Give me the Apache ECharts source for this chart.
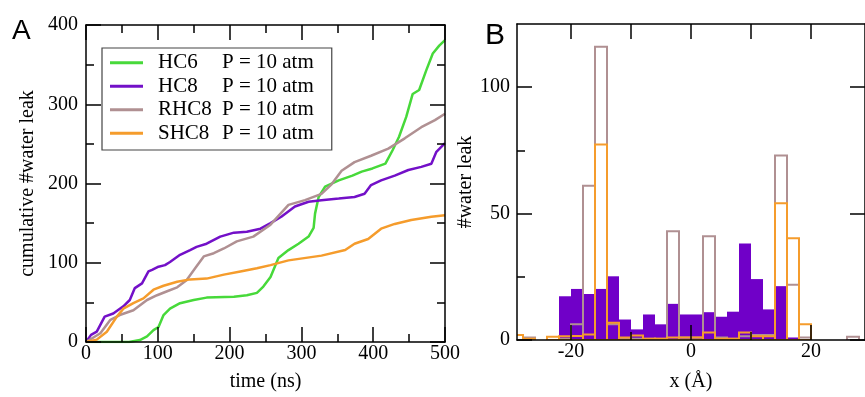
<!DOCTYPE html>
<html>
<head>
<meta charset="utf-8">
<script src="https://cdn.jsdelivr.net/npm/echarts@6/dist/echarts.min.js"></script>
<style>
html,body{margin:0;padding:0;background:#fff;}
#chart{width:865px;height:397px;}
</style>
</head>
<body>
<div id="chart"></div>
<script>
// ---------- Panel A: cumulative water leak vs time ----------
const hc6T = [0, 60, 75, 85, 94, 101, 108, 117, 131, 150, 168, 206, 224, 238, 247, 257, 268, 282, 296, 310, 317, 319, 324, 333, 352, 371, 384, 399, 417, 427, 436, 446, 455, 464, 474, 483, 492, 500];
const hc6V = [0, 0, 2.5, 7, 15, 19, 34, 42, 49, 53, 56, 57, 59, 62, 70, 82, 106, 116, 124, 133, 144, 162, 183, 196, 204, 210, 215, 219, 225, 242, 259, 284, 313, 318, 343, 364, 374, 381];

const hc8T = [0, 7, 15, 26, 38, 52, 61, 68, 78, 87, 92, 101, 110, 117, 131, 145, 154, 168, 187, 206, 224, 243, 257, 272, 291, 310, 328, 352, 374, 388, 397, 411, 430, 449, 467, 481, 488, 500];
const hc8V = [0, 9, 13, 32, 36, 45, 53, 68, 74, 89, 91, 95, 97, 101, 110, 116, 120, 124, 133, 138, 139, 143, 150, 158, 171, 177, 179, 181, 183, 187, 198, 204, 210, 217, 221, 225, 240, 251];

const rhc8T = [0, 20, 34, 47, 66, 85, 99, 113, 127, 140, 152, 164, 178, 192, 210, 233, 257, 282, 305, 328, 342, 356, 374, 397, 421, 444, 467, 486, 500];
const rhc8V = [0, 11, 28, 34, 40, 53, 59, 64, 69, 78, 93, 108, 112, 118, 127, 133, 148, 173, 179, 187, 199, 216, 227, 235, 244, 257, 271, 280, 288];

const shc8T = [0, 15, 29, 43, 52, 66, 80, 94, 108, 127, 145, 168, 192, 215, 238, 257, 282, 328, 361, 374, 393, 411, 430, 453, 481, 500];
const shc8V = [0, 3, 13, 32, 42, 49, 55, 66, 71, 76, 79, 80, 85, 89, 93, 97, 103, 109, 116, 124, 130, 143, 149, 154, 158, 160];

const seriesNames = ['HC6', 'HC8', 'RHC8', 'SHC8'];
const legendSuffix = 'P = 10 atm';

// ---------- Panel B: histogram of leak positions (2 Å bins, left edges) ----------
const binLeft = [-30, -28, -26, -24, -22, -20, -18, -16, -14, -12, -10, -8, -6, -4, -2, 0, 2, 4, 6, 8, 10, 12, 14, 16, 18, 20, 22, 24, 26];
const binWidth = 2;
const histHC8  = [0, 0, 0, 0, 17.3, 20.2, 18.2, 20.2, 25.2, 8.1, 4.2, 10.1, 6.2, 14.3, 10.1, 10.1, 11.0, 9.2, 11.2, 38.2, 24.1, 12.1, 21.3, 1, 0, 0, 0, 0, 0];
const histRHC8 = [0, 1, 0, 0, 0.5, 6.2, 61, 116, 6.2, 0.7, 0.5, 0.5, 0.5, 43, 1, 1, 41, 1, 0.5, 1.5, 2, 2, 73, 21.9, 1, 0, 0, 0, 1.3];
const histSHC8 = [2, 0.5, 0, 1.3, 1.5, 1.6, 2.2, 77.3, 6.8, 1, 1.8, 0.5, 0.5, 1, 1, 1, 3.0, 0.5, 0.5, 3.0, 1.5, 1.5, 54.1, 40.2, 6.2, 0, 0, 0, 0];

const colors = { HC6: '#47d93a', HC8: '#7310c8', RHC8: '#b09092', SHC8: '#f59c2c' };
const fillHC8 = '#7000c8';

const SERIF = '"Liberation Serif", "Times New Roman", serif';
const SANS = '"Liberation Sans", Arial, sans-serif';

function pairs(t, v) { return t.map((x, i) => [x, v[i]]); }
function bins(vals) { return binLeft.map((l, i) => [l, l + binWidth, vals[i]]); }

const chart = echarts.init(document.getElementById('chart'), null, { renderer: 'canvas' });

const axisLine = { show: true, onZero: false, lineStyle: { color: '#000', width: 1.5 } };
const noLine = { show: false, onZero: false };
const labelStyle = { color: '#000', fontFamily: SERIF, fontSize: 20 };
const nameStyle = { color: '#000', fontFamily: SERIF, fontSize: 20 };
const tickLine = { color: '#000', width: 1.5 };

function rectRender(fill, stroke) {
  return function (params, api) {
    const v = api.value(2);
    if (!(v > 0)) return null;
    const p0 = api.coord([api.value(0), v]);
    const p1 = api.coord([api.value(1), 0]);
    return {
      type: 'rect',
      shape: { x: p0[0], y: p0[1], width: p1[0] - p0[0], height: p1[1] - p0[1] },
      style: stroke ? { fill: 'none', stroke: stroke, lineWidth: 2 } : { fill: fill, stroke: null }
    };
  };
}

const option = {
  animation: false,
  backgroundColor: '#fff',
  grid: [
    { left: 86, top: 25, width: 359, height: 317 },
    { left: 517, top: 24, width: 359, height: 318 }
  ],
  legend: {
    data: seriesNames,
    orient: 'vertical',
    left: 102, top: 48,
    padding: [3, 18, 5, 8],
    itemGap: 0,
    itemWidth: 33, itemHeight: 3,
    icon: 'rect',
    borderColor: '#444', borderWidth: 1.2,
    formatter: name => `{n|${name}}{p|${legendSuffix}}`,
    textStyle: {
      color: '#000', fontFamily: SERIF, fontSize: 21, lineHeight: 23.5,
      rich: {
        n: { width: 64, padding: [0, 0, 0, 10], fontFamily: SERIF, fontSize: 21, color: '#000', lineHeight: 23.5 },
        p: { fontFamily: SERIF, fontSize: 21, color: '#000', lineHeight: 23.5 }
      }
    }
  },
  graphic: [
    { type: 'text', left: 12, top: 17, style: { text: 'A', font: '28px ' + SANS, fill: '#000' } },
    { type: 'text', left: 485, top: 21, style: { text: 'B', font: '30px ' + SANS, fill: '#000' } }
  ],
  xAxis: [
    { // A bottom
      gridIndex: 0, type: 'value', position: 'bottom', min: 0, max: 500, interval: 100, z: 10,
      axisLine, splitLine: { show: false },
      axisTick: { show: true, inside: true, length: 15, lineStyle: tickLine },
      minorTick: { show: true, splitNumber: 2, length: 8, lineStyle: tickLine },
      axisLabel: Object.assign({ margin: 2 }, labelStyle),
      name: 'time (ns)', nameLocation: 'middle', nameGap: 30, nameTextStyle: nameStyle
    },
    { // A top
      gridIndex: 0, type: 'value', position: 'top', min: 0, max: 500, interval: 100, z: 10,
      axisLine, splitLine: { show: false },
      axisTick: { show: true, inside: true, length: 15, lineStyle: tickLine },
      minorTick: { show: true, splitNumber: 2, length: 8, lineStyle: tickLine },
      axisLabel: { show: false }
    },
    { // B bottom major
      gridIndex: 1, type: 'value', position: 'bottom', min: -29, max: 29, z: 10,
      axisLine, splitLine: { show: false },
      axisTick: { show: true, inside: true, length: 15, customValues: [-20, 0, 20], lineStyle: tickLine },
      axisLabel: Object.assign({ margin: 2, customValues: [-20, 0, 20] }, labelStyle),
      name: 'x (Å)', nameLocation: 'middle', nameGap: 32, nameTextStyle: nameStyle
    },
    { // B bottom minor
      gridIndex: 1, type: 'value', position: 'bottom', min: -29, max: 29, z: 10,
      axisLine: noLine, splitLine: { show: false },
      axisTick: { show: true, inside: true, length: 8, customValues: [-10, 10], lineStyle: tickLine },
      axisLabel: { show: false }
    },
    { // B top
      gridIndex: 1, type: 'value', position: 'top', min: -29, max: 29, z: 10,
      axisLine, splitLine: { show: false },
      axisTick: { show: true, inside: true, length: 15, customValues: [-20, -10, 0, 10, 20], lineStyle: tickLine },
      axisLabel: { show: false }
    }
  ],
  yAxis: [
    { // A left
      gridIndex: 0, type: 'value', position: 'left', min: 0, max: 400, interval: 100, z: 10,
      axisLine, splitLine: { show: false },
      axisTick: { show: true, inside: true, length: 15, lineStyle: tickLine },
      minorTick: { show: true, splitNumber: 2, length: 8, lineStyle: tickLine },
      axisLabel: Object.assign({ margin: 8 }, labelStyle),
      name: 'cumulative #water leak', nameLocation: 'middle', nameGap: 48, nameTextStyle: nameStyle
    },
    { // A right
      gridIndex: 0, type: 'value', position: 'right', min: 0, max: 400, interval: 100, z: 10,
      axisLine, splitLine: { show: false },
      axisTick: { show: true, inside: true, length: 15, lineStyle: tickLine },
      minorTick: { show: true, splitNumber: 2, length: 8, lineStyle: tickLine },
      axisLabel: { show: false }
    },
    { // B left major
      gridIndex: 1, type: 'value', position: 'left', min: 0, max: 125, z: 10,
      axisLine, splitLine: { show: false },
      axisTick: { show: true, inside: true, length: 15, customValues: [0, 50, 100], lineStyle: tickLine },
      axisLabel: Object.assign({ margin: 7, customValues: [0, 50, 100] }, labelStyle),
      name: '#water leak', nameLocation: 'middle', nameGap: 31, nameTextStyle: nameStyle
    },
    { // B left minor
      gridIndex: 1, type: 'value', position: 'left', min: 0, max: 125, z: 10,
      axisLine: noLine, splitLine: { show: false },
      axisTick: { show: true, inside: true, length: 8, customValues: [25, 75], lineStyle: tickLine },
      axisLabel: { show: false }
    },
    { // B right
      gridIndex: 1, type: 'value', position: 'right', min: 0, max: 125, z: 10,
      axisLine, splitLine: { show: false },
      axisTick: { show: true, inside: true, length: 15, customValues: [0, 50, 100], lineStyle: tickLine },
      axisLabel: { show: false }
    }
  ],
  series: [
    { name: 'HC6', type: 'line', xAxisIndex: 0, yAxisIndex: 0, data: pairs(hc6T, hc6V), showSymbol: false, symbol: 'none', color: colors.HC6, lineStyle: { width: 2.5, color: colors.HC6 } },
    { name: 'HC8', type: 'line', xAxisIndex: 0, yAxisIndex: 0, data: pairs(hc8T, hc8V), showSymbol: false, symbol: 'none', color: colors.HC8, lineStyle: { width: 2.5, color: colors.HC8 } },
    { name: 'RHC8', type: 'line', xAxisIndex: 0, yAxisIndex: 0, data: pairs(rhc8T, rhc8V), showSymbol: false, symbol: 'none', color: colors.RHC8, lineStyle: { width: 2.5, color: colors.RHC8 } },
    { name: 'SHC8', type: 'line', xAxisIndex: 0, yAxisIndex: 0, data: pairs(shc8T, shc8V), showSymbol: false, symbol: 'none', color: colors.SHC8, lineStyle: { width: 2.5, color: colors.SHC8 } },
    { name: 'hist HC8', type: 'custom', xAxisIndex: 2, yAxisIndex: 2, clip: true, encode: { x: [0, 1], y: 2 }, data: bins(histHC8), renderItem: rectRender(fillHC8, null), z: 2 },
    { name: 'hist RHC8', type: 'custom', xAxisIndex: 2, yAxisIndex: 2, clip: true, encode: { x: [0, 1], y: 2 }, data: bins(histRHC8), renderItem: rectRender(null, colors.RHC8), z: 3 },
    { name: 'hist SHC8', type: 'custom', xAxisIndex: 2, yAxisIndex: 2, clip: true, encode: { x: [0, 1], y: 2 }, data: bins(histSHC8), renderItem: rectRender(null, colors.SHC8), z: 4 }
  ]
};
chart.setOption(option);
</script>
</body>
</html>
